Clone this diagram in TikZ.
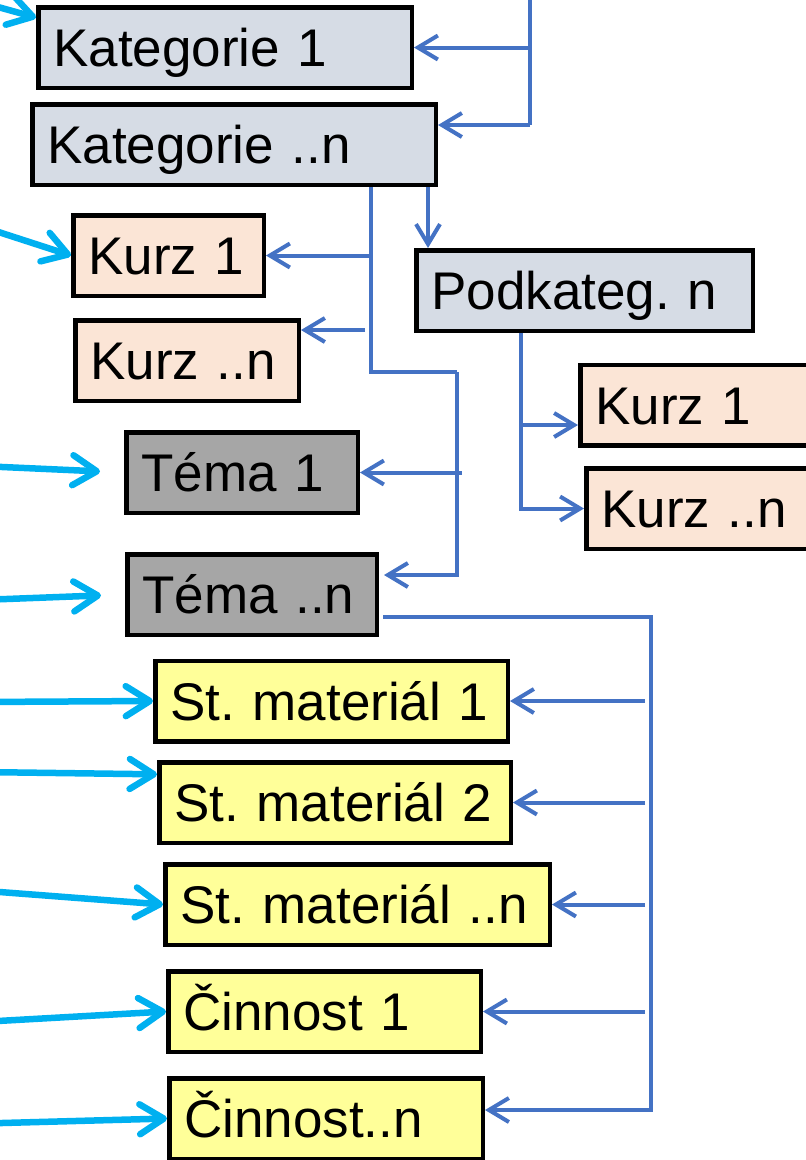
\documentclass[tikz,border=0pt]{standalone}
\usepackage{fontspec}
\setmainfont{Liberation Sans}
\usetikzlibrary{arrows.meta}
\definecolor{katfill}{HTML}{D6DCE5}
\definecolor{kurzfill}{HTML}{FBE5D6}
\definecolor{temafill}{HTML}{A6A6A6}
\definecolor{matfill}{HTML}{FFFF99}
\definecolor{linkblue}{HTML}{4472C4}
\definecolor{inblue}{HTML}{00B0F0}
\tikzstyle{box}=[draw=black,line width=4.5pt,outer sep=2.25pt,anchor=west,inner xsep=15pt,minimum height=80.5pt,text height=38pt,text depth=0pt,align=left,font=\fontsize{53}{60}\selectfont\frenchspacing]
\tikzstyle{link}=[draw=linkblue,line width=4pt]
\tikzstyle{linkto}=[link,-{Straight Barb[length=20pt,width=24pt]}]
\tikzstyle{incoming}=[draw=inblue,line width=6.5pt,line cap=round,-{Straight Barb[length=24pt,width=30pt,round]}]

\begin{document}
\begin{tikzpicture}[x=1pt,y=-1pt]

      \useasboundingbox (0,0) rectangle (806,1160);

      \node[box, fill=katfill, text width=343.5pt] (kategorie_1) at (36,47.5) {Kategorie 1};
      \node[box, fill=katfill, text width=373.5pt] (kategorie_n) at (30,144.5) {Kategorie ..n};

      \node[box, fill=kurzfill, text width=160.5pt] (kurz_1_a) at (71,255.5) {Kurz 1};
      \node[box, fill=kurzfill, text width=193.5pt] (kurz_n_a) at (73,360.5) {Kurz ..n};

      \node[box, fill=katfill, text width=306.5pt] (podkateg_n) at (414,290.5) {Podkateg. n};
      \node[box, fill=kurzfill, text width=217.5pt] (kurz_1_b) at (578,405) {Kurz 1};
      \node[box, fill=kurzfill, text width=211.5pt] (kurz_n_b) at (584,508.5) {Kurz ..n};

      \node[box, fill=temafill, text width=201.5pt] (tema_1) at (124,472.5) {Téma 1};
      \node[box, fill=temafill, text width=219.5pt] (tema_n) at (125,594.5) {Téma ..n};

      \node[box, fill=matfill, text width=322.5pt] (material_1) at (153,701) {St. materiál 1};
      \node[box, fill=matfill, text width=321.5pt] (material_2) at (157,802.5) {St. materiál 2};
      \node[box, fill=matfill, text width=354.5pt] (material_n) at (163,904.5) {St. materiál ..n};
      \node[box, fill=matfill, text width=282.5pt] (cinnost_1) at (166,1011.5) {Činnost 1};
      \node[box, fill=matfill, text width=283.5pt] (cinnost_n) at (167,1118.5) {Činnost..n};

      % kategorie
      \coordinate (kat_top) at (530,-10);
      \coordinate (kat_join) at (530,125);
      \draw[link] (kat_top) -- (kat_join);
      \draw[linkto] (kat_top |- kategorie_1.east) -- (kategorie_1.east);
      \draw[linkto] (kat_join) -- (kategorie_n.east |- kat_join);

      % kategorie ..n -> kurzy, temata
      \coordinate (kurz_line) at (371,372);
      \coordinate (tema_line) at (457,372);
      \coordinate (kurz_n_branch) at (365,330);
      \coordinate (tema_1_branch) at (462,472.5);
      \draw[link] (kategorie_n.south -| kurz_line) -- (kurz_line) -- (tema_line);
      \draw[linkto] (kurz_line |- kurz_1_a.east) -- (kurz_1_a.east);
      \draw[linkto] (kurz_n_branch) -- (kurz_n_a.east |- kurz_n_branch);
      \draw[linkto] (tema_1_branch) -- (tema_1.east);
      \draw[linkto, shorten >=5pt] (tema_line) |- (tema_n.east |- 0,575);

      % kategorie ..n -> podkategorie
      \coordinate (podkat_link) at (428,0);
      \draw[linkto] (kategorie_n.south -| podkat_link) -- (podkat_link |- podkateg_n.north);

      \coordinate (podkat_line) at (521,0);
      \coordinate (kurz_1_b_branch) at (521,425);
      \draw[linkto] (podkateg_n.south -| podkat_line) |- (kurz_n_b.west);
      \draw[linkto] (kurz_1_b_branch) -- (kurz_1_b.west |- kurz_1_b_branch);

      % tema ..n -> materialy, cinnosti
      \coordinate (mat_top) at (651,617);
      \coordinate (mat_bot) at (651,1110);
      \draw[linkto, shorten <=4pt] (tema_n.east |- mat_top) -- (mat_top) -- (mat_bot) -- (cinnost_n.east |- mat_bot);
      \foreach \n in {material_1,material_2,material_n,cinnost_1}
        \draw[linkto, shorten <=6pt] (mat_top |- \n.east) -- (\n.east);

      % vstupy zleva
      \foreach \y/\n/\a/\s in {2/kategorie_1/171/0pt, 226/kurz_1_a/west/0pt, 466/tema_1/west/24pt, 600/tema_n/west/24pt, 702/material_1/west/0pt, 772/material_2/171/0pt, 890.5/material_n/west/0pt, 1022/cinnost_1/west/0pt, 1123.6/cinnost_n/west/0pt} {
        \coordinate (from_\n) at (-20,\y);
        \draw[incoming, shorten >=\s] (from_\n) -- (\n.\a);
      }

\end{tikzpicture}
\end{document}
